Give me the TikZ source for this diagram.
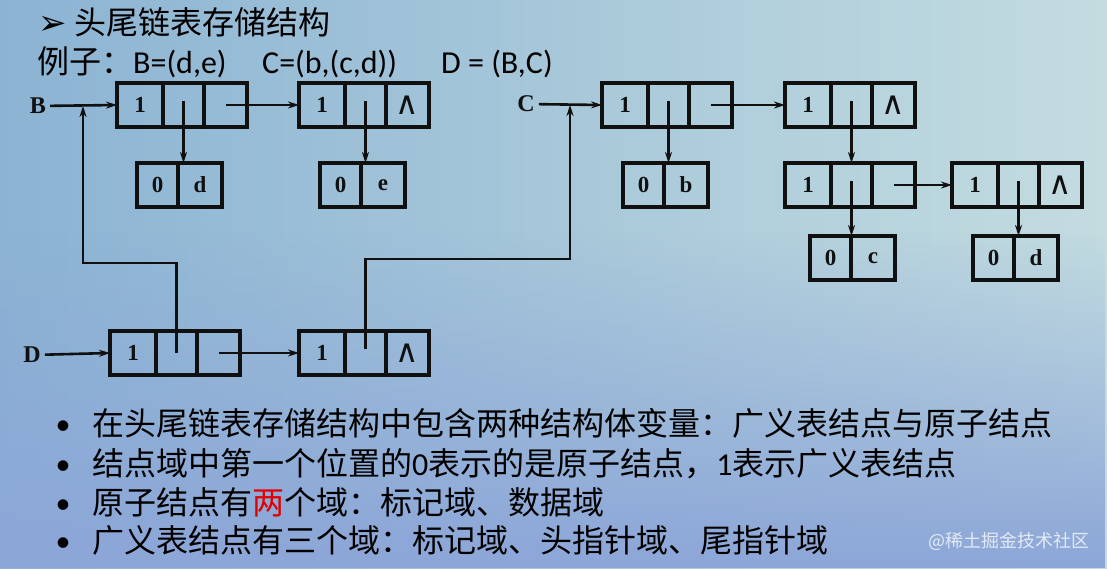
\documentclass[tikz,border=0pt]{standalone}
\usepackage{fontspec}
\setmainfont{Liberation Serif}
\newfontfamily\cjk{Noto Sans CJK SC}
\newfontfamily\lat{Carlito}
\newfontfamily\dv{DejaVu Sans}
\usetikzlibrary{arrows.meta,fadings}
\definecolor{ink}{HTML}{101010}
\definecolor{bgl}{HTML}{8BB3D3}
\definecolor{bgr}{HTML}{C3DCE0}
\definecolor{bgb}{HTML}{8CA6D8}
\definecolor{redc}{HTML}{E00000}
\newcommand\glnode[5]{%
  \node[ca] (#1a) at (#2,#3) {#4};
  \node[cb] (#1b) at (#1a.east) {};
  \node[cc] (#1c) at (#1b.east) {#5};}
\newcommand\atnode[5]{%
  \node[aa] (#1a) at (#2,#3) {#4};
  \node[ab] (#1b) at (#1a.east) {#5};}
\newcommand\nil{{\dv\mdseries\fontsize{32}{32}\selectfont ∧}}
\begin{document}
\begin{tikzpicture}[x=1pt,y=-1pt,
  cell/.style={draw=ink, line width=3.2pt, minimum height=44pt, inner sep=0pt, outer sep=0pt, anchor=west, text=ink, font=\fontsize{23}{23}\selectfont\bfseries},
  ca/.style={cell, minimum width=46pt},
  cb/.style={cell, minimum width=41pt},
  cc/.style={cell, minimum width=43pt},
  aa/.style={cell, minimum width=41pt},
  ab/.style={cell, minimum width=44pt},
  arr/.style={draw=ink, line width=2.6pt, -{Stealth[length=11pt,width=7pt]}},
  lab/.style={inner sep=4pt, text=ink, font=\fontsize{24}{24}\selectfont\bfseries},
  txt/.style={anchor=base west, inner sep=0pt, text=black, font=\cjk\fontsize{32}{32}\selectfont},
  bul/.style={anchor=base, inner sep=0pt, text=black, font=\lat\fontsize{30}{30}\selectfont}
]
\useasboundingbox (0,0) rectangle (1107,568);
% background
\shade[left color=bgl, right color=bgr] (0,0) rectangle (1107,568);
\fill[bgb, path fading=north] (0,230) rectangle (1107,568);

% header text
\node[anchor=base west, inner sep=0pt, font=\dv\fontsize{34}{34}\selectfont] (arrowmark) at (38,34) {➢};
\node[txt] (title) at (74,34) {头尾链表存储结构};
\node[txt] (ex) at (37,73) {例子：{\lat B=(d,e)}};
\node[txt, font=\lat\fontsize{32}{32}\selectfont] (exC) at (262,73) {C=(b,(c,d))};
\node[txt, font=\lat\fontsize{32}{32}\selectfont] (exD) at (441,73) {D = (B,C)};

% B list
\node[lab] (Blab) at (38,106) {B};
\glnode{B1}{117}{105}{1}{}
\glnode{B2}{299}{105}{1}{\nil}
\atnode{Bd}{137}{185}{0}{d}
\atnode{Be}{320}{185}{0}{e}

% C list
\node[lab] (Clab) at (526,104) {C};
\glnode{C1}{602}{105}{1}{}
\glnode{C2}{785}{105}{1}{\nil}
\atnode{Cb}{623}{185}{0}{b}
\glnode{C3}{785}{185}{1}{}
\glnode{C4}{952}{185}{1}{\nil}
\atnode{Cc}{810}{258}{0}{c}
\atnode{Cd}{973}{258}{0}{d}

% D list
\node[lab] (Dlab) at (32,355) {D};
\glnode{D1}{110}{353}{1}{}
\glnode{D2}{299}{353}{1}{\nil}

\coordinate (kB) at (83,263);
\coordinate (jB) at (83,105);
\coordinate (kC) at (570,259);
\coordinate (jC) at (570,104);

% connectors
\draw[arr] (Blab) -- (B1a.west);
\draw[arr] ([yshift=4pt]B1b.center) -- (B1b.center |- Bda.north);
\draw[arr] (B1c.center) -- (B2a.west);
\draw[arr] ([yshift=4pt]B2b.center) -- (B2b.center |- Bea.north);

\draw[arr] (Clab) -- (C1a.west);
\draw[arr] ([yshift=4pt]C1b.center) -- (C1b.center |- Cba.north);
\draw[arr] (C1c.center) -- (C2a.west);
\draw[arr] ([yshift=4pt]C2b.center) -- (C2b.center |- C3b.north);
\draw[arr] ([yshift=4pt]C3b.center) -- (C3b.center |- Cca.north);
\draw[arr] (C3c.center) -- (C4a.west);
\draw[arr] ([yshift=4pt]C4b.center) -- (C4b.center |- Cda.north);

\draw[arr] (Dlab) -- (D1a.west);
\draw[arr] (D1c.center) -- (D2a.west);
\draw[arr, shorten >=1pt] (D1b.center) |- (kB) -- (jB);
\draw[arr, shorten >=1pt] ([yshift=4pt]D2b.center) |- (kC) -- (jC);

% bullets
\node[bul] (b1) at (63,434) {•};
\node[bul] (b2) at (63,474) {•};
\node[bul] (b3) at (63,513) {•};
\node[bul] (b4) at (63,551) {•};
\node[txt] (t1) at (92,435) {在头尾链表存储结构中包含两种结构体变量：广义表结点与原子结点};
\node[txt] (t2) at (92,475) {结点域中第一个位置的{\lat 0}表示的是原子结点，{\lat 1}表示广义表结点};
\node[txt] (t3) at (92,514) {原子结点有\textcolor{redc}{两}个域：标记域、数据域};
\node[txt] (t4) at (92,552) {广义表结点有三个域：标记域、头指针域、尾指针域};
\node[anchor=base west, inner sep=0pt, text=white, opacity=0.75, font=\cjk\fontsize{18}{18}\selectfont] (wm) at (928,547) {@稀土掘金技术社区};
\end{tikzpicture}
\end{document}
